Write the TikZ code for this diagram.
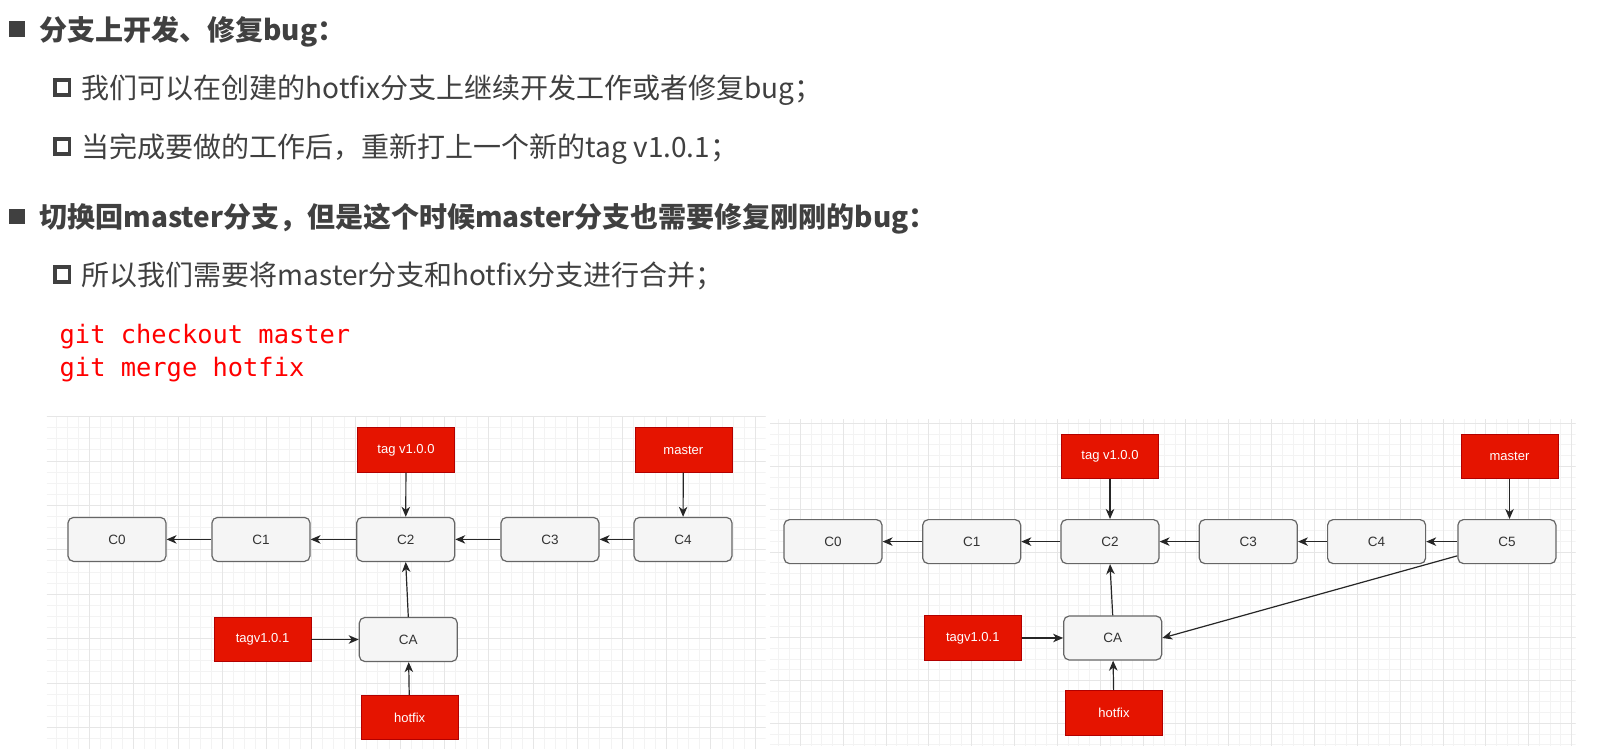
\documentclass[tikz,border=0pt]{standalone}
\usepackage{fontspec}
\setmainfont{Liberation Sans}
\newfontfamily\cjk{Noto Sans CJK SC}
\newfontfamily\codefont{DejaVu Sans Mono}
\usetikzlibrary{arrows.meta}

\definecolor{txt}{HTML}{404040}
\definecolor{codered}{HTML}{FF0000}
\definecolor{commitfill}{HTML}{F5F5F5}
\definecolor{commitborder}{HTML}{666666}
\definecolor{committext}{HTML}{333333}
\definecolor{reffill}{HTML}{E51400}
\definecolor{refborder}{HTML}{B20000}
\definecolor{gridminor}{HTML}{F3F3F3}
\definecolor{gridmajor}{HTML}{E6E6E6}
\definecolor{linkcol}{HTML}{262626}

\tikzset{
  bodytext/.style={anchor=base west, inner sep=0pt, text=txt,
    font=\cjk\fontsize{28}{34}\selectfont},
  headtext/.style={bodytext, font=\cjk\bfseries\fontsize{28}{34}\selectfont},
  codetext/.style={anchor=base west, inner sep=0pt, text=codered,
    font=\codefont\fontsize{25.4}{30}\selectfont},
  fullbullet/.style={fill=txt, draw=none, minimum size=15.5pt, inner sep=0pt},
  openbullet/.style={draw=txt, line width=3.6pt, fill=white, minimum size=14.5pt, inner sep=0pt},
  commit/.style={draw=commitborder, fill=commitfill, rounded corners=5.5pt,
    line width=1.2pt, minimum width=98pt, minimum height=44pt, text=committext,
    font=\fontsize{13.5}{15}\selectfont},
  refbox/.style={draw=refborder, fill=reffill, line width=0.6pt,
    minimum width=97pt, minimum height=44.5pt, text=white,
    font=\fontsize{13}{15}\selectfont},
  link/.style={-{Stealth[length=10pt,width=8.5pt,inset=3pt]}, line width=1.2pt, draw=linkcol},
  minorline/.style={draw=gridminor, line width=1pt},
  majorline/.style={draw=gridmajor, line width=1pt},
}

\begin{document}
\begin{tikzpicture}[x=1pt,y=-1pt]
\useasboundingbox[fill=white] (0,0) rectangle (1597,752);

% ---------- bullet text ----------
\node[fullbullet] (b1) at (17.2,29.2) {};
\node[headtext] (t1) at (39.3,40.5) {分支上开发、修复bug：};
\node[openbullet] (b2) at (62.2,87.5) {};
\node[bodytext] (t2) at (81.6,98.3) {我们可以在创建的hotfix分支上继续开发工作或者修复bug；};
\node[openbullet] (b3) at (62.2,146.5) {};
\node[bodytext] (t3) at (81.6,157.3) {当完成要做的工作后，重新打上一个新的tag v1.0.1；};
\node[fullbullet] (b4) at (17.2,216.5) {};
\node[headtext] (t4) at (39.3,227.5) {切换回master分支，但是这个时候master分支也需要修复刚刚的bug：};
\node[openbullet] (b5) at (62.2,274.5) {};
\node[bodytext] (t5) at (81.6,285.5) {所以我们需要将master分支和hotfix分支进行合并；};
\node[codetext] (k1) at (59.5,343.5) {git checkout master};
\node[codetext] (k2) at (59.5,376.5) {git merge hotfix};

% ---------- grid behind the left graph ----------
\begin{scope}
  \clip (46.7,416.7) rectangle (765.7,748);
  \foreach \i in {0,...,66} \draw[minorline] ({44.9+11.1*\i},416.7) -- ++(0,332);
  \foreach \i in {0,...,30} \draw[minorline] (46.7,{416.6+11.1*\i}) -- ++(720,0);
  \foreach \i in {0,...,17} \draw[majorline] ({44.9+44.4*\i},416.7) -- ++(0,332);
  \foreach \i in {0,...,8} \draw[majorline] (46.7,{416.6+44.4*\i}) -- ++(720,0);
\end{scope}

% ---------- grid behind the right graph ----------
\begin{scope}
  \clip (770,419) rectangle (1575.7,745.3);
  \foreach \i in {0,...,80} \draw[minorline] ({757.45+10.7125*\i},419) -- ++(0,327);
  \foreach \i in {0,...,31} \draw[minorline] (770,{423.45+10.7125*\i}) -- ++(806,0);
  \foreach \i in {0,...,20} \draw[majorline] ({757.45+42.85*\i},419) -- ++(0,327);
  \foreach \i in {0,...,8} \draw[majorline] (770,{423.45+42.85*\i}) -- ++(806,0);
\end{scope}

% ---------- left graph: hotfix branch with its own tag ----------
\node[commit] (LC0) at (117,539.4) {C0};
\node[commit] (LC1) at (261,539.4) {C1};
\node[commit] (LC2) at (405.7,539.4) {C2};
\node[commit] (LC3) at (550,539.4) {C3};
\node[commit] (LC4) at (683,539.4) {C4};
\node[refbox] (Ltag) at (406,450) {tag v1.0.0};
\node[refbox] (Lmaster) at (683.3,450) {master};
\node[commit] (LCA) at (408.3,639.5) {CA};
\node[refbox] (Ltag2) at (262.5,639.5) {tagv1.0.1};
\node[refbox] (Lhot) at (409.6,717.5) {hotfix};

\draw[link] (LC1) -- (LC0);
\draw[link] (LC2) -- (LC1);
\draw[link] (LC3) -- (LC2);
\draw[link] (LC4) -- (LC3);
\draw[link] (Ltag) -- (LC2);
\draw[link] (Lmaster) -- (LC4);
\draw[link] (LCA.north) -- (LC2.south);
\draw[link] (Ltag2) -- (LCA);
\draw[link] (Lhot) -- (LCA);

% ---------- right graph: master after merging hotfix ----------
\begin{scope}[every node/.append style={minimum width=96pt, minimum height=43pt}]
\node[commit] (RC0) at (833,541.6) {C0};
\node[commit] (RC1) at (971.7,541.6) {C1};
\node[commit] (RC2) at (1110,541.6) {C2};
\node[commit] (RC3) at (1248.3,541.6) {C3};
\node[commit] (RC4) at (1376.6,541.6) {C4};
\node[commit] (RC5) at (1506.9,541.6) {C5};
\node[commit] (RCA) at (1112.7,638) {CA};
\end{scope}
\begin{scope}[every node/.append style={minimum width=93pt, minimum height=44pt}]
\node[refbox] (Rtag) at (1110,456.3) {tag v1.0.0};
\node[refbox] (Rmaster) at (1509.5,456.3) {master};
\node[refbox] (Rtag2) at (972.8,638) {tagv1.0.1};
\node[refbox] (Rhot) at (1114,712.7) {hotfix};
\end{scope}

\draw[link] (RC1) -- (RC0);
\draw[link] (RC2) -- (RC1);
\draw[link] (RC3) -- (RC2);
\draw[link] (RC4) -- (RC3);
\draw[link] (RC5) -- (RC4);
\draw[link] (Rtag) -- (RC2);
\draw[link] (Rmaster.south) -- (Rmaster.south |- RC5.north);
\draw[link] (RCA.north) -- (RC2.south);
\draw[link] (Rtag2) -- (RCA);
\draw[link] (Rhot) -- (RCA);
\draw[link] (RC5.196) -- (RCA.east);
\end{tikzpicture}
\end{document}
